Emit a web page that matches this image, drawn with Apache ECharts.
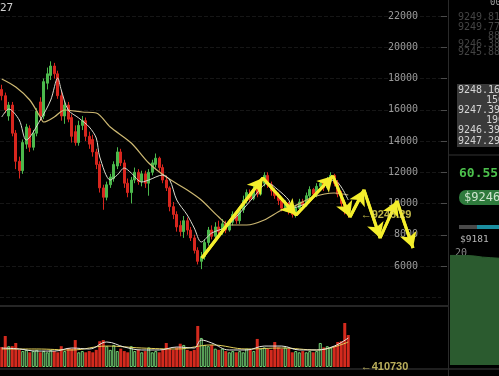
<!DOCTYPE html>
<html><head><meta charset="utf-8">
<script src="https://cdn.jsdelivr.net/npm/echarts@6/dist/echarts.min.js"></script>
<style>html,body{margin:0;padding:0;background:#000;overflow:hidden}#c{width:499px;height:376px;}</style>
</head><body><div id="c"></div>
<script>
// ---- data ----
const opens  = [17300,16900,15600,16300,14500,12700,12100,13800,14800,13600,14500,16500,15600,17700,18200,18800,18300,16900,15600,16300,15500,14600,13900,15000,15300,14300,14100,13300,12500,11000,10400,11200,11600,12400,13300,12600,11300,10700,11500,12000,11400,11900,11300,12000,12500,12900,12300,11500,11000,9800,9300,8600,8200,8900,8300,7800,7000,6300,6600,7500,8300,7900,8500,8200,8700,8300,8800,9300,8900,9600,10200,10700,10300,10900,10600,11300,11800,11200,10800,10500,10200,9700,10000,9500,9300,9700,10100,9900,10500,10900,10600,11100,11300,11000,11500,11800,11300,10600,10000,9500];
const closes = [16900,16000,16300,14500,12700,12100,13900,14900,13600,14500,15900,15600,17800,18300,18800,18300,16900,15600,16300,15400,14300,13900,15000,15300,14300,13800,13300,12500,11000,10400,11200,11700,12500,13300,12600,11300,10700,11500,12000,11400,11900,11300,12000,12600,12900,12300,11500,11000,9800,9300,8500,8200,8900,8300,7800,7000,6300,6600,7500,8300,7900,8500,8200,8700,8300,8800,9300,8900,9600,10200,10700,10300,10900,10600,11300,11800,11200,10800,10500,10200,9700,10000,9500,9300,9700,10100,9900,10500,10900,10600,11100,11300,11000,11500,11800,11300,10600,10000,9500,9246.29];
const lows   = [16600,15800,15300,14300,12200,11600,11900,13500,13300,13400,14300,15300,15400,17300,17900,18000,16700,15300,15100,15200,13900,13700,13700,14700,14000,13500,13000,12200,10700,9600,10200,11000,11400,12200,12400,11000,10400,10000,11300,11200,11100,11000,10500,11800,12300,12100,11300,10800,9500,9000,8200,7900,7800,8000,7600,6800,6100,5800,6400,7300,7700,7800,8000,8000,8100,8200,8600,8700,8700,9400,10000,10100,10200,10400,10500,11100,11000,10500,10300,9900,9500,9500,9300,9100,9100,9500,9700,9800,10300,10400,10400,10900,10800,10900,11300,11100,10400,9800,9300,9100];
const highs  = [17600,17100,16500,16500,14700,13000,14100,15100,15000,14700,16100,16800,18000,18700,19100,19000,18500,17200,16600,16500,15700,15000,15300,15600,15500,14600,14400,13500,12700,11200,11400,11900,12700,13600,13500,12800,11600,11700,12300,12200,12100,12100,12200,12800,13200,13000,12500,11800,11100,10100,9500,8900,9200,9100,8500,8000,7200,6900,7700,8500,8600,8800,8900,9000,8900,9000,9500,9400,9800,10500,10900,10900,11200,11200,11500,12000,12000,11400,11000,10700,10400,10200,10100,9700,9900,10300,10300,10700,11100,11000,11300,11500,11500,11700,12000,11900,11500,10800,10200,9700];
// volume in millions
const volumesM = [16.3,25.3,17,17,19.6,14,13,14,12,13,14,12,13,12,14,13,12,17,13,15.5,15,22,12,13,12,13,12,14,21,22,17,14,18,13,15,13,12,17,13,14,12,13,16,12,13,12,14,19.6,15,14,16,19,18,14,13,14,33.5,23.7,18,17,18,15,14,15,13,12,13,12,13,12,15,14,13,22.9,15,16,15,14,20.4,16,15,16,15,12,13,12,13,12,13,12,13,19.6,16,17,16,17,20.4,21,35.9,26.1];
// moving averages: [candle index, value]
const maShort = [[0,15536],[2,16048],[5,15344],[7,14064],[11,15344],[14,16624],[16,18032],[17,17264],[19,15984],[22,15472],[25,14896],[27,14192],[28,12976],[31,11504],[33,11824],[35,12272],[37,11952],[40,11376],[42,11504],[46,11824],[48,11504],[50,10224],[53,9264],[55,8432],[57,7536],[60,8112],[64,8496],[68,9392],[72,10416],[76,11312],[79,10864],[82,10224],[83,9712],[87,10032],[91,10864],[95,11504],[97,11056],[99,10224]];
const maLong = [[0,17968],[4,17456],[8,16624],[11,15536],[12,15216],[15,15536],[18,15984],[23,15856],[27,15792],[31,14896],[37,13872],[42,12592],[47,11696],[53,10864],[57,10224],[62,9136],[65,8624],[70,8624],[75,8944],[80,9584],[83,9776],[89,10416],[95,10672],[99,10544]];
const volMaShort = [[0,15.5],[5,14.7],[10,13],[15,13],[20,15.5],[25,14.7],[30,20.4],[35,16.3],[40,13.9],[45,13.9],[50,16.3],[55,15.5],[57,22],[60,19.6],[65,13.9],[70,13.9],[75,17.1],[80,17.1],[85,13.9],[90,13.9],[95,17.1],[99,23.7]];
const volMaLong = [[0,14.7],[10,14.7],[20,13.9],[30,17.1],[40,15.5],[50,14.7],[60,18],[70,14.7],[80,15.5],[90,13.9],[99,20.4]];
// hand-drawn arrow zigzag: [position in candle slots, price]
const arrowPath = [[57.2,6512],[74.6,11632],[84.1,9264],[94.6,11760],[99.5,9136],[103.5,10864],[108.1,7792],[112.9,10160],[117.5,7152]];
const lastPrice = 9246.29;
const lastVolume = 410730;
const labelSlot = 102.4;
const priceTicks = [4000, 22000, 2000];
const depthVals = [19.6,19.6,19.6,19.5,19.3,19.2,19.1];
const slotCount = 126;

const categories = Array.from({length: slotCount}, (_, i) => 'd' + (i + 1));
const candleData = opens.map((o, i) => [o, closes[i], lows[i], highs[i]]);
const volData = volumesM.map((v, i) => ({
  value: v,
  itemStyle: closes[i] >= opens[i]
    ? {color: '#0b0b0b', borderColor: '#74d474', borderWidth: 1}
    : {color: '#d42a1e'}
}));
const segs = [];
for (let i = 0; i < arrowPath.length - 1; i++) segs.push([{coord: arrowPath[i]}, {coord: arrowPath[i + 1]}]);

const mono = 'DejaVu Sans Mono';
const chart = echarts.init(document.getElementById('c'));
const T = (x, y, text, fill, font, align) => ({type: 'text', x, y, silent: true, z: 50,
  style: {text, fill, font, align: align || 'left', verticalAlign: 'middle'}});
chart.setOption({
  backgroundColor: '#000',
  animation: false,
  grid: [
    {left: 0, top: 16, width: 441, height: 281.25},
    {left: 0, top: 318, width: 441, height: 49},
    {left: 450, top: 249.3, width: 49, height: 115.7}
  ],
  xAxis: [
    {gridIndex: 0, type: 'category', data: categories, show: false},
    {gridIndex: 1, type: 'category', data: categories, show: false},
    {gridIndex: 0, type: 'value', min: -0.5, max: slotCount - 0.5, show: false},
    {gridIndex: 1, type: 'value', min: -0.5, max: slotCount - 0.5, show: false},
    {gridIndex: 2, type: 'category', data: depthVals.map((_, i) => i), boundaryGap: false, show: false}
  ],
  yAxis: [
    {gridIndex: 0, type: 'value', position: 'right', min: priceTicks[0], max: priceTicks[1], interval: priceTicks[2],
     axisLine: {show: false, onZero: false},
     axisTick: {show: true, length: 6, lineStyle: {color: '#4a4a4a'}},
     axisLabel: {inside: true, margin: 23, align: 'right', color: '#9a9a9a', fontFamily: mono, fontSize: 10,
       showMinLabel: false, formatter: v => String(v)},
     splitLine: {show: true, lineStyle: {color: '#161616', type: 'dashed'}}},
    {gridIndex: 1, type: 'value', min: 0, max: 40, show: false, axisLine: {onZero: false}},
    {gridIndex: 2, type: 'value', min: 0, max: 20.7, interval: 10, position: 'left',
     axisLine: {show: false}, axisTick: {show: false}, splitLine: {show: false},
     axisLabel: {inside: true, margin: 5, color: '#8a8a8a', fontFamily: mono, fontSize: 10,
       formatter: v => (v === 10 || v === 20) ? String(v) : ''}}
  ],
  series: [
    {type: 'candlestick', xAxisIndex: 0, yAxisIndex: 0, data: candleData, barWidth: 2.8,
     itemStyle: {color: '#4cb84c', color0: '#d7261e', borderColor: '#4cb84c', borderColor0: '#d7261e', borderWidth: 1}},
    {type: 'line', xAxisIndex: 0, yAxisIndex: 0, data: maLong, smooth: 0.3, symbol: 'none',
     lineStyle: {color: '#cdb872', width: 1.2}, z: 3},
    {type: 'line', xAxisIndex: 0, yAxisIndex: 0, data: maShort, smooth: 0.3, symbol: 'none',
     lineStyle: {color: '#dcdcd0', width: 1}, z: 3},
    {type: 'bar', xAxisIndex: 1, yAxisIndex: 1, data: volData, barWidth: 3},
    {type: 'line', xAxisIndex: 1, yAxisIndex: 1, data: volMaLong, smooth: 0.4, symbol: 'none',
     lineStyle: {color: '#e6d25a', width: 1}, z: 3},
    {type: 'line', xAxisIndex: 1, yAxisIndex: 1, data: volMaShort, smooth: 0.4, symbol: 'none',
     lineStyle: {color: '#e8e8e0', width: 1}, z: 3},
    {type: 'line', xAxisIndex: 2, yAxisIndex: 0, data: arrowPath, symbol: 'none', silent: true, z: 10,
     lineStyle: {color: '#f4ee2c', width: 3},
     markLine: {silent: true, symbol: ['none', 'arrow'], symbolSize: [13, 15], label: {show: false},
       lineStyle: {color: '#f4ee2c', width: 3, type: 'solid'}, emphasis: {disabled: true}, data: segs}},
    {type: 'scatter', xAxisIndex: 2, yAxisIndex: 0, data: [[labelSlot, lastPrice]], symbolSize: 1, z: 11,
     itemStyle: {color: 'transparent'},
     label: {show: true, position: 'right', distance: 0, formatter: '←' + lastPrice.toFixed(2),
       color: '#ebe05a', fontSize: 11, fontWeight: 'bold', fontFamily: 'Liberation Sans'}},
    {type: 'scatter', xAxisIndex: 3, yAxisIndex: 1, data: [[labelSlot, lastVolume / 1e6]], symbolSize: 1, z: 11,
     itemStyle: {color: 'transparent'},
     label: {show: true, position: 'right', distance: 0, formatter: '←' + lastVolume,
       color: '#e6d870', fontSize: 11, fontWeight: 'bold', fontFamily: 'Liberation Sans'}},
    {type: 'line', xAxisIndex: 4, yAxisIndex: 2, data: depthVals, symbol: 'none',
     lineStyle: {color: '#2c5e30', width: 1}, areaStyle: {color: '#2b5b2f', opacity: 1}}
  ],
  graphic: [
    {type: 'line', silent: true, shape: {x1: 448.5, y1: 0, x2: 448.5, y2: 376}, style: {stroke: '#2a2a2a', lineWidth: 1}},
    {type: 'line', silent: true, shape: {x1: 0, y1: 306, x2: 449, y2: 306}, style: {stroke: '#262626', lineWidth: 2}},
    {type: 'line', silent: true, shape: {x1: 0, y1: 369, x2: 499, y2: 369}, style: {stroke: '#2a2a2a', lineWidth: 1.5}},
    {type: 'line', silent: true, shape: {x1: 449, y1: 155, x2: 499, y2: 155}, style: {stroke: '#333', lineWidth: 1}},
    T(0, 8, '27', '#d0d0d0', '11px ' + mono),
    T(490, 3, '00', '#9a9a9a', '9px ' + mono),
    T(458, 17, '9249.81', '#444', '10px ' + mono),
    T(458, 27, '9249.77', '#444', '10px ' + mono),
    T(488, 36, '88', '#444', '10px ' + mono),
    T(458, 44, '9246.38', '#444', '10px ' + mono),
    T(458, 52, '9245.88', '#444', '10px ' + mono),
    {type: 'rect', silent: true, shape: {x: 457, y: 84, width: 42, height: 63}, style: {fill: '#3a3a3a'}},
    T(458, 90, '9248.16', '#d4d4d4', '10px ' + mono),
    T(486, 100, '150', '#d4d4d4', '10px ' + mono),
    T(458, 110, '9247.39', '#d4d4d4', '10px ' + mono),
    T(486, 120, '190', '#d4d4d4', '10px ' + mono),
    T(458, 130, '9246.39', '#d4d4d4', '10px ' + mono),
    T(458, 141, '9247.29', '#d4d4d4', '10px ' + mono),
    T(459, 174, '60.55(', '#4cc04c', 'bold 13px ' + mono),
    {type: 'rect', silent: true, shape: {x: 459, y: 190, width: 50, height: 15, r: 7}, style: {fill: '#2e7a3c'}},
    T(464, 198, '$9246', '#cfe5cf', '12px ' + mono),
    {type: 'rect', silent: true, shape: {x: 459, y: 225, width: 18, height: 4}, style: {fill: '#4a4a4a'}},
    {type: 'rect', silent: true, shape: {x: 477, y: 225, width: 22, height: 4}, style: {fill: '#1b8ea0'}},
    T(460, 240, '$9181', '#b8b8b8', '9.5px ' + mono)
  ]
});
</script></body></html>
